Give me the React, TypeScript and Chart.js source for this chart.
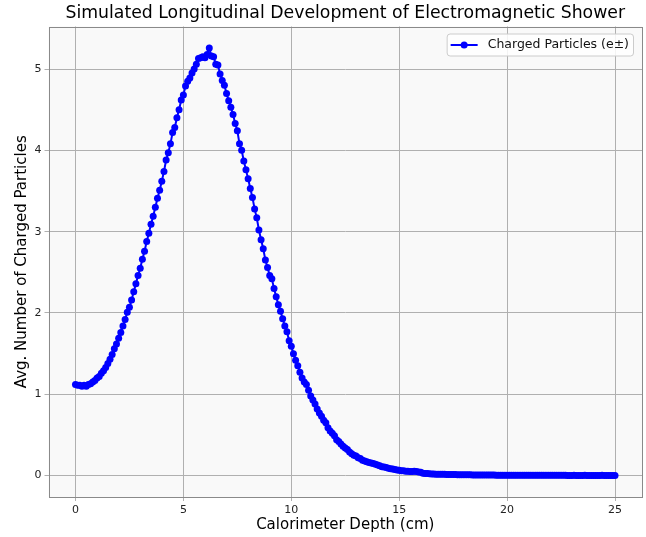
import React, { useEffect, useRef } from "react";
import { Chart, registerables } from "chart.js";

Chart.register(...registerables);

const TITLE = "Simulated Longitudinal Development of Electromagnetic Shower";
const X_LABEL = "Calorimeter Depth (cm)";
const Y_LABEL = "Avg. Number of Charged Particles";
const SERIES_LABEL = "Charged Particles (e±)";

const DEPTH_START = 0;
const DEPTH_STEP = 0.1;
const X_TICKS = [0, 5, 10, 15, 20, 25];
const Y_TICKS = [0, 1, 2, 3, 4, 5];

// depth 0.0 – 6.2 cm
const SHOWER_RISE = [
  1.12, 1.11, 1.11, 1.10, 1.11, 1.10, 1.12, 1.13, 1.15, 1.17,
  1.20, 1.22, 1.26, 1.29, 1.33, 1.38, 1.43, 1.49, 1.56, 1.62,
  1.69, 1.76, 1.84, 1.92, 2.01, 2.07, 2.16, 2.26, 2.36, 2.46,
  2.55, 2.66, 2.76, 2.88, 2.98, 3.09, 3.19, 3.30, 3.41, 3.51,
  3.62, 3.74, 3.88, 3.97, 4.08, 4.22, 4.28, 4.40, 4.50, 4.62,
  4.68, 4.79, 4.85, 4.89, 4.95, 5.00, 5.06, 5.13, 5.14, 5.15,
  5.14, 5.18, 5.26,
];
// depth 6.3 – 12.9 cm
const SHOWER_FALL = [
  5.16, 5.15, 5.06, 5.05, 4.94, 4.86, 4.80,
  4.70, 4.61, 4.53, 4.44, 4.33, 4.24, 4.08, 4.00, 3.87, 3.76,
  3.65, 3.53, 3.42, 3.28, 3.17, 3.02, 2.90, 2.79, 2.65, 2.56,
  2.46, 2.42, 2.30, 2.20, 2.10, 2.02, 1.93, 1.84, 1.77, 1.66,
  1.59, 1.50, 1.42, 1.35, 1.27, 1.20, 1.15, 1.12, 1.05, 0.98,
  0.93, 0.88, 0.82, 0.77, 0.73, 0.68, 0.65, 0.59, 0.55, 0.52,
  0.49, 0.44, 0.42, 0.39, 0.36, 0.34, 0.32, 0.29, 0.27, 0.25,
];
// depth 13.0 – 25.0 cm
const SHOWER_TAIL = [
  0.24, 0.22, 0.21, 0.19, 0.18, 0.17, 0.16, 0.155, 0.15, 0.14,
  0.13, 0.12, 0.11, 0.105, 0.10, 0.09, 0.085, 0.08, 0.075, 0.07,
  0.065, 0.06, 0.06, 0.055, 0.055, 0.05, 0.05, 0.055, 0.05, 0.045,
  0.04, 0.03, 0.025, 0.025, 0.022, 0.020, 0.019, 0.018, 0.018, 0.017,
  0.016, 0.016, 0.015, 0.014, 0.014, 0.013, 0.013, 0.012, 0.012, 0.011,
  0.011, 0.010, 0.010, 0.010, 0.009, 0.009, 0.009, 0.008, 0.008, 0.008,
  0.008, 0.007, 0.007, 0.007, 0.007, 0.006, 0.006, 0.006, 0.006, 0.006,
  0.005, 0.005, 0.005, 0.005, 0.005, 0.005, 0.004, 0.004, 0.004, 0.004,
  0.004, 0.004, 0.004, 0.004, 0.004, 0.003, 0.003, 0.003, 0.003, 0.003,
  0.003, 0.003, 0.003, 0.003, 0.003, 0.003, 0.003, 0.003, 0.002, 0.002,
  0.002, 0.003, 0.002, 0.002, 0.002, 0.002, 0.003, 0.002, 0.002, 0.002,
  0.002, 0.002, 0.002, 0.002, 0.003, 0.002, 0.002, 0.002, 0.002, 0.002,
  0.002,
];

const FONT = '"DejaVu Sans", "Liberation Sans", sans-serif';
const BLUE = "#0000ff";

const plotBackground = {
  id: "plotBackground",
  beforeDraw(chart: any) {
    const { ctx, chartArea, width, height } = chart;
    ctx.save();
    ctx.fillStyle = "#ffffff";
    ctx.fillRect(0, 0, width, height);
    ctx.fillStyle = "#f9f9f9";
    ctx.fillRect(chartArea.left, chartArea.top, chartArea.right - chartArea.left, chartArea.bottom - chartArea.top);
    ctx.restore();
  },
};

const frameTitleLegend = {
  id: "frameTitleLegend",
  afterDraw(chart: any) {
    const { ctx, chartArea } = chart;
    ctx.save();
    ctx.strokeStyle = "#8a8a8a";
    ctx.lineWidth = 1;
    ctx.strokeRect(
      Math.round(chartArea.left) + 0.5,
      Math.round(chartArea.top) + 0.5,
      Math.round(chartArea.right - chartArea.left) - 1,
      Math.round(chartArea.bottom - chartArea.top) - 1
    );

    // title centred over the plot area
    ctx.font = `17.3px ${FONT}`;
    ctx.fillStyle = "#000000";
    ctx.textAlign = "center";
    ctx.textBaseline = "middle";
    ctx.fillText(TITLE, (chartArea.left + chartArea.right) / 2, 13.5);

    // legend inside the plot, upper right
    ctx.font = `12.5px ${FONT}`;
    const tw = ctx.measureText(SERIES_LABEL).width;
    const boxRight = chartArea.right - 9;
    const textEnd = boxRight - 4;
    const textStart = textEnd - tw;
    const boxLeft = textStart - 41;
    const boxTop = chartArea.top + 7;
    const boxH = 22;
    ctx.beginPath();
    (ctx as any).roundRect(boxLeft + 0.5, boxTop + 0.5, boxRight - boxLeft, boxH, 3);
    ctx.fillStyle = "rgba(255,255,255,0.85)";
    ctx.fill();
    ctx.strokeStyle = "#cccccc";
    ctx.stroke();

    const cy = boxTop + boxH / 2 + 0.5;
    ctx.strokeStyle = BLUE;
    ctx.lineWidth = 2;
    ctx.beginPath();
    ctx.moveTo(boxLeft + 4, cy);
    ctx.lineTo(boxLeft + 31, cy);
    ctx.stroke();
    ctx.fillStyle = BLUE;
    ctx.beginPath();
    ctx.arc(boxLeft + 17.5, cy, 3.5, 0, Math.PI * 2);
    ctx.fill();

    ctx.fillStyle = "#111111";
    ctx.textBaseline = "middle";
    ctx.textAlign = "left";
    ctx.fillText(SERIES_LABEL, textStart, cy);
    ctx.restore();
  },
};

export default function App() {
  const canvasRef = useRef<HTMLCanvasElement | null>(null);

  useEffect(() => {
    document.body.style.margin = "0";
    const canvas = canvasRef.current;
    if (!canvas) return;

    const counts = [...SHOWER_RISE, ...SHOWER_FALL, ...SHOWER_TAIL];
    const points = counts.map((c, i) => ({
      x: Math.round((DEPTH_START + i * DEPTH_STEP) * 10) / 10,
      y: c,
    }));

    const tickFont = { family: FONT, size: 11 };
    const chart = new Chart(canvas, {
      type: "line",
      data: {
        datasets: [
          {
            label: SERIES_LABEL,
            data: points,
            borderColor: BLUE,
            backgroundColor: BLUE,
            borderWidth: 2,
            pointRadius: 3.5,
            pointBorderWidth: 0,
            pointBackgroundColor: BLUE,
            tension: 0,
            fill: false,
          },
        ],
      },
      options: {
        responsive: false,
        animation: false,
        devicePixelRatio: 1,
        layout: { padding: { left: 0, right: 3.5, top: 26.5, bottom: 0 } },
        plugins: {
          legend: { display: false },
          tooltip: { enabled: false },
          title: { display: false },
        },
        scales: {
          x: {
            type: "linear",
            min: -1.25,
            max: 26.25,
            afterBuildTicks: (s: any) => {
              s.ticks = X_TICKS.map((v) => ({ value: v }));
            },
            afterFit: (s: any) => {
              s.height = 40;
            },
            grid: { color: "#b0b0b0", lineWidth: 1, tickLength: 4, drawTicks: true },
            border: { display: false },
            ticks: { color: "#222222", font: tickFont, padding: 3, maxRotation: 0, autoSkip: false },
            title: {
              display: true,
              text: X_LABEL,
              color: "#000000",
              font: { family: FONT, size: 15 },
              padding: { top: 0, bottom: 3 },
            },
          },
          y: {
            type: "linear",
            min: -0.263,
            max: 5.523,
            afterBuildTicks: (s: any) => {
              s.ticks = Y_TICKS.map((v) => ({ value: v }));
            },
            afterFit: (s: any) => {
              s.width = 48.5;
            },
            grid: { color: "#b0b0b0", lineWidth: 1, tickLength: 4, drawTicks: true },
            border: { display: false },
            ticks: { color: "#222222", font: tickFont, padding: 3, autoSkip: false },
            title: {
              display: true,
              text: Y_LABEL,
              color: "#000000",
              font: { family: FONT, size: 15 },
              padding: { top: 13, bottom: 0 },
            },
          },
        },
      },
      plugins: [plotBackground, frameTitleLegend],
    });

    return () => chart.destroy();
  }, []);

  return (
    <div style={{ width: 646, height: 537, position: "relative" }}>
      <canvas ref={canvasRef} width={646} height={537} style={{ display: "block" }} />
    </div>
  );
}
